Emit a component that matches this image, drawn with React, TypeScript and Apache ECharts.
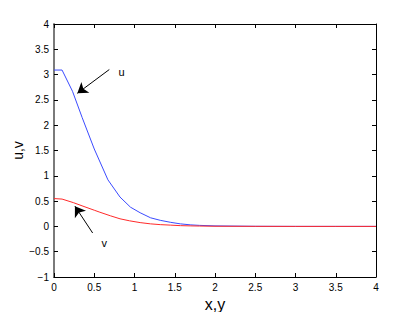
import React, { useEffect, useRef } from "react";
import * as echarts from "echarts";

const xU = [0, 0.1, 0.23, 0.35, 0.5, 0.67, 0.82, 0.95, 1.07, 1.2, 1.32, 1.45, 1.57, 1.7, 1.81, 2.0, 2.5, 3, 3.5, 4];
const uVals = [3.09, 3.09, 2.67, 2.15, 1.53, 0.92, 0.58, 0.38, 0.27, 0.17, 0.12, 0.08, 0.05, 0.03, 0.02, 0.01, 0.002, 0, 0, 0];

const xV = [0, 0.1, 0.24, 0.36, 0.5, 0.57, 0.7, 0.82, 0.94, 1.07, 1.2, 1.32, 1.45, 1.57, 1.7, 1.81, 2.0, 2.5, 3, 3.5, 4];
const vVals = [0.55, 0.54, 0.47, 0.4, 0.32, 0.28, 0.21, 0.15, 0.11, 0.075, 0.05, 0.035, 0.025, 0.015, 0.01, 0.007, 0.003, 0.001, 0, 0, 0];

const xTicks = { min: 0, max: 4, interval: 0.5 };
const yTicks = { min: -1, max: 4, interval: 0.5 };

// annotation arrows in data coordinates: [from, to]
const uArrow = [[0.687, 3.1], [0.29, 2.63]];
const vArrow = [[0.48, -0.13], [0.26, 0.4]];
const uLabel = { text: "u", at: [0.84, 3.05] };
const vLabel = { text: "v", at: [0.625, -0.33] };

const FONT = "Liberation Sans, Arial, Helvetica, sans-serif";

export default function App() {
  const ref = useRef<HTMLDivElement>(null);
  useEffect(() => {
    if (!ref.current) return;
    const chart = echarts.init(ref.current, null, { renderer: "svg" });
    const fmt = (v: number) => (v < 0 ? "\u2212" + Math.abs(v) : String(v));
    const hiddenAxis = {
      axisLabel: { show: false },
      splitLine: { show: false },
      axisTick: { show: true, inside: true, length: 4, lineStyle: { color: "#000" } },
    };
    const arrowLine = (a: number[][]) => ({
      silent: true,
      symbol: ["none", "arrow"],
      symbolSize: 10,
      label: { show: false },
      lineStyle: { color: "#000", width: 1, type: "solid" },
      emphasis: { disabled: true },
      data: [[{ coord: a[0] }, { coord: a[1] }]],
    });
    chart.setOption({
      animation: false,
      backgroundColor: "#fff",
      textStyle: { fontFamily: FONT },
      grid: { left: 54, top: 24, width: 322, height: 253, show: false, containLabel: false, outerBoundsMode: "none" },
      xAxis: [
        {
          type: "value",
          ...xTicks,
          position: "bottom",
          name: "x,y",
          nameLocation: "middle",
          nameGap: 12,
          nameTextStyle: { fontSize: 16, color: "#000", fontFamily: FONT },
          axisLabel: { color: "#000", fontSize: 10, margin: 5, fontFamily: FONT },
          splitLine: { show: false },
          axisTick: { show: true, inside: true, length: 4, lineStyle: { color: "#000" } },
          axisLine: { show: true, onZero: false, lineStyle: { color: "#000", width: 1 } },
        },
        { type: "value", ...xTicks, position: "top", ...hiddenAxis, axisLine: { show: true, onZero: false, lineStyle: { color: "#000", width: 1 } } },
      ],
      yAxis: [
        {
          type: "value",
          ...yTicks,
          position: "left",
          name: "u,v",
          nameLocation: "middle",
          nameGap: 29,
          nameMoveOverlap: false,
          nameRotate: 90,
          nameTextStyle: { fontSize: 14, color: "#000", fontFamily: FONT },
          axisLabel: { color: "#000", fontSize: 10, margin: 5, formatter: fmt, fontFamily: FONT },
          splitLine: { show: false },
          axisTick: { show: true, inside: true, length: 4, lineStyle: { color: "#000" } },
          axisLine: { show: true, onZero: false, lineStyle: { color: "#7a7a7a", width: 2 } },
        },
        { type: "value", ...yTicks, position: "right", ...hiddenAxis, axisLine: { show: true, onZero: false, lineStyle: { color: "#000", width: 1 } } },
      ],
      series: [
        {
          name: "u",
          type: "line",
          showSymbol: false,
          symbol: "none",
          data: xU.map((x, i) => [x, uVals[i]]),
          lineStyle: { color: "#3b4bff", width: 1 },
          markLine: arrowLine(uArrow),
        },
        {
          name: "v",
          type: "line",
          showSymbol: false,
          symbol: "none",
          data: xV.map((x, i) => [x, vVals[i]]),
          lineStyle: { color: "#ff2a2a", width: 1 },
          markLine: arrowLine(vArrow),
        },
      ],
    });
    const pu = chart.convertToPixel({ gridIndex: 0 }, uLabel.at) as number[];
    const pv = chart.convertToPixel({ gridIndex: 0 }, vLabel.at) as number[];
    chart.setOption({
      graphic: [
        { type: "text", x: pu[0], y: pu[1], style: { text: uLabel.text, fontSize: 11, fill: "#000", fontFamily: FONT, align: "center", verticalAlign: "middle" } },
        { type: "text", x: pv[0], y: pv[1], style: { text: vLabel.text, fontSize: 11, fill: "#000", fontFamily: FONT, align: "center", verticalAlign: "middle" } },
      ],
    });
    return () => chart.dispose();
  }, []);
  return (
    <div
      ref={ref}
      style={{ position: "absolute", left: 0, top: 0, width: 415, height: 312 }}
    />
  );
}
